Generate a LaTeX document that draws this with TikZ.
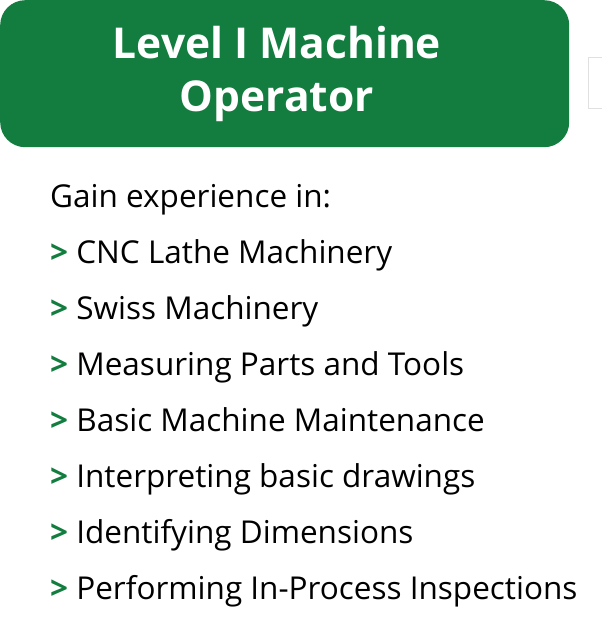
\documentclass[tikz,border=0pt]{standalone}
\usepackage{fontspec}
\setmainfont{Open Sans}
\definecolor{lvgreen}{HTML}{127D3F}
\begin{document}
\begin{tikzpicture}[x=1pt,y=-1pt,
  item/.style={anchor=base west,inner sep=0pt,font=\fontsize{31.5}{36}\selectfont},
  gt/.style={text=lvgreen,font=\bfseries}]
\useasboundingbox (0,0) rectangle (602,627);
\node[draw=black!12,line width=0.8pt,minimum width=20pt,minimum height=51pt,anchor=north west,inner sep=0pt] (ghost) at (588,57) {};
\node[fill=lvgreen,rounded corners=25pt,minimum width=569pt,minimum height=147pt,anchor=north west,inner sep=0pt] (hdr) at (0,0) {};
\node[text=white,align=center,font=\bfseries\fontsize{42.5}{53}\selectfont] (title) at (277,74) {Level I Machine\\Operator};
\node[item] (l0) at (50,207) {Gain experience in:};
\node[item] (l1) at (50,263) {\textcolor{lvgreen}{\bfseries>} CNC Lathe Machinery};
\node[item] (l2) at (50,319) {\textcolor{lvgreen}{\bfseries>} Swiss Machinery};
\node[item] (l3) at (50,375) {\textcolor{lvgreen}{\bfseries>} Measuring Parts and Tools};
\node[item] (l4) at (50,431) {\textcolor{lvgreen}{\bfseries>} Basic Machine Maintenance};
\node[item] (l5) at (50,487) {\textcolor{lvgreen}{\bfseries>} Interpreting basic drawings};
\node[item] (l6) at (50,543) {\textcolor{lvgreen}{\bfseries>} Identifying Dimensions};
\node[item] (l7) at (50,599) {\textcolor{lvgreen}{\bfseries>} Performing In-Process Inspections};
\end{tikzpicture}
\end{document}
